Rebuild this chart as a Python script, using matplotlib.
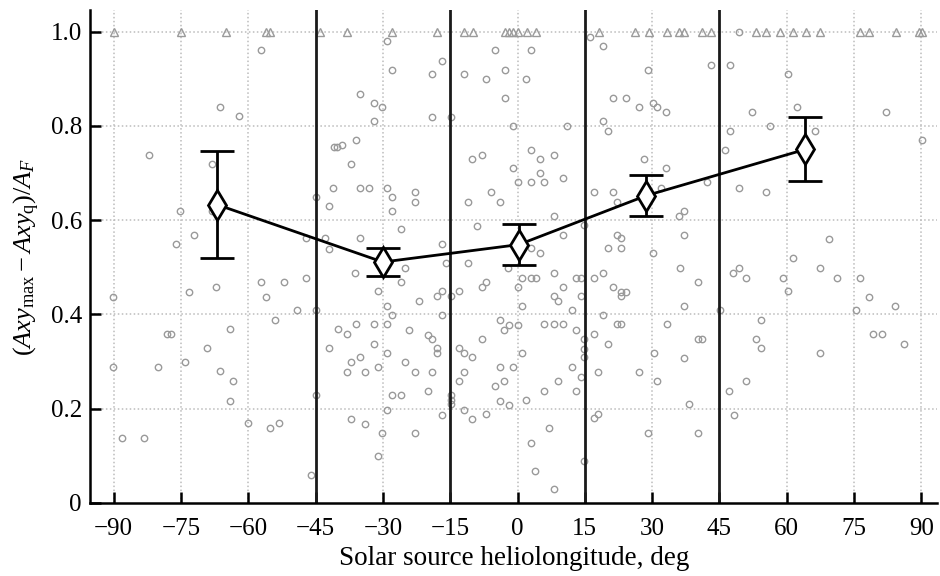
import numpy as np
import matplotlib
matplotlib.use('Agg')
import matplotlib.pyplot as plt
from matplotlib.ticker import FuncFormatter

# =================================================
# 1. STYLE
# =================================================
plt.rcParams['font.family'] = ['Liberation Serif', 'DejaVu Serif']
plt.rcParams['font.size'] = 18
plt.rcParams['mathtext.fontset'] = 'custom'
plt.rcParams['mathtext.rm'] = 'Liberation Serif'
plt.rcParams['mathtext.it'] = 'Liberation Serif:italic'
plt.rcParams['axes.linewidth'] = 1.8

# =================================================
# 2. DATA
# =================================================
# individual events, open circles: (heliolongitude deg, ratio)
circ_x = [
    -57.1, -66.2, -62.1, -82.2, -68.1, -75.1, -68.1, -72.1, -76.1, -45.0, -47.1,
    -90.2, -73.1, -67.2, -57.1, -52.1, -47.1, -56.1, -49.2, -45.0, -54.0, -64.1,
    -78.2, -77.2, -69.2, -90.2, -80.2, -74.1, -66.2, -63.3, -64.1, -45.0, -60.0,
    -55.2, -53.1, -88.1, -83.3, -46.1,
    -29.0, -16.9, -28.0, -19.0, -35.1, -31.9, -30.1, -31.9, -19.0, -14.8, -5.0,
    -11.9, -7.1, -2.9, -2.9, 1.8, -1.0, -36.0, -39.1, -41.0, -40.2, -37.0,
    -41.2, -35.1, -33.0, -29.0, -28.0, -42.1, -28.0, -22.9, -22.9, -26.0,
    -35.1, -43.0, -42.0, -16.9, -10.1, -8.0, -0.9, 0.1, -6.0, -11.0, -3.9, -9.0,
    -36.1, -25.0, -16.0, -11.0, -26.0, -31.0, -22.0, -17.9, -16.9, -14.8, -13.0,
    -8.0, -7.0, -2.1, 0.9, 0.1, -29.0, -28.0, -16.9, -40.0, -38.1, -36.0, -31.9,
    -29.0, -24.1, -19.9, -19.0, -17.9, -17.9, -42.0, -31.9, -29.0, -35.1, -37.0,
    -38.1, -34.0, -31.0, -25.0, -22.9, -19.0, -19.9, -28.0, -26.0, -29.0, -16.9,
    -37.0, -34.0, -30.1, -22.9, -31.0, -14.8, -14.8, -14.8, -13.0, -12.0, -10.1,
    -8.0, -12.0, -13.0, -12.0, -10.1, -7.0, -3.9, -3.0, -2.0, 0.1, 0.9, -3.9,
    -1.0, -3.0, -5.0, -3.9, -2.0, 1.8,
    16.2, 3.0, 19.1, 29.0, 43.0, 21.2, 24.1, 27.1, 30.1, 31.0, 33.1, 11.0, 19.1,
    20.2, 3.0, 5.1, 8.1, 5.1, 3.0, 6.0, 10.1, 28.1, 33.1, 42.2, 17.1, 21.2, 22.2,
    31.9, 8.1, 14.7, 10.1, 36.0, 37.1, 37.1, 22.2, 23.0, 20.1, 23.0, 3.0, 5.1,
    30.1,
    8.1, 3.0, 4.1, 13.1, 14.2, 17.1, 19.1, 10.1, 8.1, 9.1, 14.2, 12.1, 1.0, 21.2,
    23.0, 24.1, 23.0, 19.1, 6.0, 8.1, 10.1, 13.1, 14.9, 17.1, 22.2, 23.0, 20.1,
    14.9, 14.9, 12.1, 14.2, 9.0, 6.0, 13.1, 18.0, 27.1, 17.1, 18.0, 7.1, 3.0,
    3.9, 8.1, 14.9, 29.0, 30.3, 31.0, 33.3, 36.2, 40.1, 37.1, 40.1, 41.2, 37.1,
    38.2, 40.1, 45.1,
    49.3, 47.3, 60.2, 62.2, 52.3, 82.2, 56.2, 47.3, 66.2, 90.2, 46.2, 49.3, 55.3,
    69.3, 61.3,
    48.1, 49.3, 51.0, 59.1, 60.2, 67.3, 71.2, 76.2, 78.2, 84.2, 75.4, 54.2, 53.1,
    54.2, 67.3, 79.2, 81.3, 86.2, 51.0, 47.1, 48.2,
]
circ_y = [
    0.960, 0.839, 0.820, 0.739, 0.720, 0.620, 0.620, 0.569, 0.550, 0.650, 0.561,
    0.437, 0.448, 0.458, 0.468, 0.468, 0.478, 0.437, 0.409, 0.409, 0.388, 0.368,
    0.359, 0.359, 0.328, 0.288, 0.288, 0.298, 0.279, 0.258, 0.217, 0.229, 0.169,
    0.158, 0.169, 0.137, 0.137, 0.060,
    0.979, 0.938, 0.919, 0.910, 0.868, 0.849, 0.839, 0.810, 0.819, 0.819, 0.960,
    0.910, 0.900, 0.919, 0.860, 0.899, 0.799, 0.769, 0.760, 0.756, 0.756, 0.719,
    0.668, 0.668, 0.668, 0.668, 0.649, 0.629, 0.619, 0.660, 0.639, 0.581,
    0.561, 0.561, 0.538, 0.549, 0.729, 0.739, 0.711, 0.680, 0.660, 0.639, 0.639, 0.588,
    0.487, 0.498, 0.509, 0.509, 0.468, 0.449, 0.428, 0.438, 0.449, 0.438, 0.449,
    0.459, 0.468, 0.498, 0.478, 0.459, 0.418, 0.398, 0.398, 0.369, 0.358, 0.379, 0.379,
    0.379, 0.367, 0.357, 0.347, 0.328, 0.318, 0.328, 0.337, 0.318, 0.309, 0.298,
    0.278, 0.278, 0.288, 0.298, 0.278, 0.278, 0.237, 0.229, 0.229, 0.197, 0.187,
    0.178, 0.168, 0.148, 0.148, 0.099, 0.229, 0.219, 0.209, 0.328, 0.318, 0.309,
    0.347, 0.278, 0.258, 0.197, 0.178, 0.188, 0.388, 0.367, 0.377, 0.378, 0.318, 0.288,
    0.288, 0.258, 0.248, 0.217, 0.208, 0.218,
    0.989, 0.960, 0.969, 0.919, 0.929, 0.860, 0.860, 0.839, 0.849, 0.839, 0.830, 0.799, 0.810,
    0.788, 0.749, 0.729, 0.739, 0.699, 0.680, 0.680, 0.689, 0.729, 0.710, 0.680, 0.660, 0.660, 0.639,
    0.669, 0.609, 0.589, 0.569, 0.609, 0.619, 0.569, 0.569, 0.561, 0.540, 0.540, 0.540, 0.530,
    0.530,
    0.487, 0.478, 0.478, 0.478, 0.478, 0.478, 0.487, 0.459, 0.438, 0.428, 0.438, 0.409, 0.418, 0.459,
    0.448, 0.448, 0.438, 0.398, 0.379, 0.379, 0.379, 0.367, 0.347, 0.358, 0.379, 0.379, 0.337,
    0.326, 0.309, 0.288, 0.268, 0.258, 0.237, 0.237, 0.278, 0.278, 0.179, 0.188, 0.158, 0.128,
    0.068, 0.029, 0.089, 0.148, 0.318, 0.258, 0.379, 0.498, 0.468, 0.418, 0.347, 0.347, 0.308,
    0.209, 0.148, 0.409,
    1.000, 0.929, 0.910, 0.839, 0.830, 0.830, 0.799, 0.789, 0.789, 0.769, 0.749, 0.668, 0.660,
    0.560, 0.520,
    0.487, 0.498, 0.478, 0.478, 0.449, 0.498, 0.478, 0.478, 0.437, 0.417, 0.409, 0.388, 0.347,
    0.328, 0.317, 0.358, 0.358, 0.337, 0.258, 0.237, 0.187,
]

# events with ratio = 1 (triangles)
tri_x = [-90.0, -75.0, -65.0, -56.1, -55.1, -44.0, -38.1, -27.9, -17.9, -12.0,
         -9.9, -2.9, -2.0, -1.0, 0.1, 2.2, 4.1, 18.1, 26.1, 29.2, 33.3, 36.0,
         37.1, 41.2, 43.2, 53.1, 55.3, 58.4, 61.3, 64.3, 67.3, 76.2, 78.2,
         84.3, 89.5, 90.2]
tri_y = [1.0] * len(tri_x)

# bin means with errors
mean_x = [-67.0, -30.0, 0.3, 28.7, 64.1]
mean_y = [0.633, 0.511, 0.548, 0.652, 0.750]
mean_err = [0.114, 0.030, 0.043, 0.044, 0.068]

bin_edges = [-45, -15, 15, 45]
x_ticks = np.arange(-90, 91, 15)
y_ticks = [0, 0.2, 0.4, 0.6, 0.8, 1.0]

# =================================================
# 3. PLOT
# =================================================
fig = plt.figure(figsize=(9.4, 5.76), dpi=100)
ax = fig.add_axes([0.096, 0.127, 0.901, 0.855])

col_pts = '#9a9a9a'
col_grid = '#bcbcbc'

# dotted grid (skip positions that get solid lines)
for xt in x_ticks:
    if xt not in bin_edges:
        ax.axvline(xt, color=col_grid, linestyle=(0, (1, 1.6)), linewidth=1.1, zorder=0)
for yt in y_ticks[1:]:
    ax.axhline(yt, color=col_grid, linestyle=(0, (1, 1.6)), linewidth=1.1, zorder=0)

for xe in bin_edges:
    ax.axvline(xe, color='#1a1a1a', linewidth=2.0, zorder=2)

ax.plot(circ_x, circ_y, linestyle='none', marker='o', ms=4.6, mfc='none',
        mec=col_pts, mew=1.0, zorder=1)
ax.plot(tri_x, tri_y, linestyle='none', marker='^', ms=5.2, mfc='none',
        mec=col_pts, mew=1.0, zorder=1)

ax.errorbar(mean_x, mean_y, yerr=mean_err, color='black', linewidth=2.0,
            elinewidth=2.0, capsize=12, capthick=2.0, marker='d', ms=15,
            mfc='white', mec='black', mew=2.0, zorder=4)

ax.set_xlim(-95.2, 93.5)
ax.set_ylim(0, 1.045)
ax.set_xticks(x_ticks)
ax.set_yticks(y_ticks)
ax.yaxis.set_major_formatter(FuncFormatter(lambda v, p: '0' if v == 0 else f'{v:.1f}'))

ax.spines['top'].set_visible(False)
ax.spines['right'].set_visible(False)
ax.tick_params(axis='both', direction='in', length=8, width=1.8, labelsize=18)
ax.tick_params(axis='x', pad=11)
ax.tick_params(axis='y', pad=6)

ax.set_xlabel('Solar source heliolongitude, deg', fontsize=19.5, labelpad=4)
ax.set_ylabel(r'$(Axy_{\rm max} - Axy_{\rm q})/A_F$', fontsize=19, labelpad=6)

fig.savefig('out.png', dpi=100)
